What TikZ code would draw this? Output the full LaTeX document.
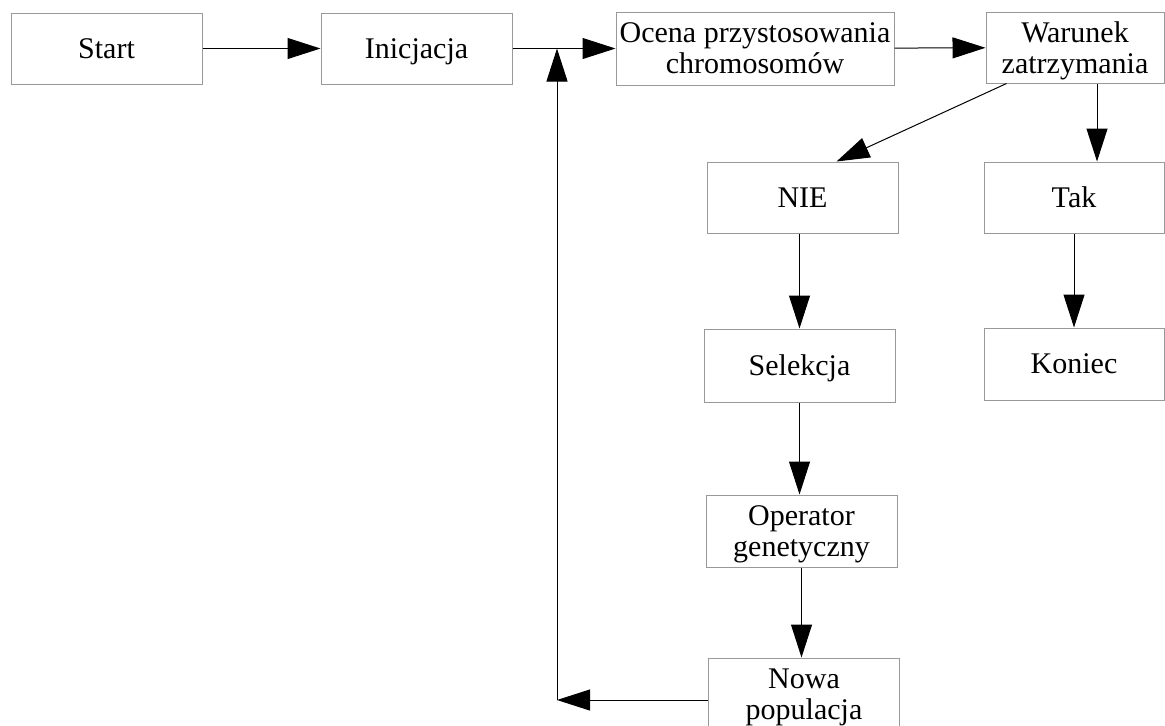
\documentclass[tikz,border=0pt]{standalone}
\usepackage{fontspec}
\setmainfont{Liberation Serif}
\usetikzlibrary{
    arrows.meta,
    positioning,
    calc
}

\begin{document}
\begin{tikzpicture}[
        x=0.5pt, y=-0.5pt,
        box/.style={rectangle, draw=gray!80, line width=0.5pt, inner sep=0pt, minimum width=95.5pt, minimum height=35.5pt, align=center, text depth=0pt, font=\fontsize{15}{15.5}\selectfont},
        arrow/.style={-{Triangle[length=16.5pt, width=10.5pt]}, line width=0.5pt}
    ]
        \useasboundingbox (0,0) rectangle (1165,725);

        \node[box] (start) at (106.5,48.5) {Start};
        \node[box] (init) at (416.5,48.5) {Inicjacja};
        \node[box, minimum width=139pt, minimum height=36.5pt] (ocena) at (755,48.5) {Ocena przystosowania\\chromosomów};
        \node[box, minimum width=89pt] (warunek) at (1075,47.5) {Warunek\\zatrzymania};
        \node[box] (nie) at (802.5,197.5) {NIE};
        \node[box, minimum width=90pt] (tak) at (1074,197.5) {Tak};
        \node[box, minimum height=36.5pt] (selekcja) at (799.5,365.5) {Selekcja};
        \node[box, minimum width=90pt, minimum height=36pt] (koniec) at (1074,364) {Koniec};
        \node[box, minimum height=36pt] (operator) at (801.5,531) {Operator\\genetyczny};
        \node[box, minimum height=36pt] (nowa) at (804,694) {Nowa\\populacja};
        \coordinate (turn) at (557,700);

        \draw[arrow] (start) -- (init);
        \draw[arrow] (init) -- (ocena);
        \draw[arrow] (ocena) -- (warunek);
        \draw[arrow] ([xshift=10.5pt]warunek.south west) -- ([xshift=17pt]nie.north);
        \draw[arrow] ([xshift=11pt]warunek.south) -- ([xshift=11pt]warunek.south |- tak.north);
        \draw[arrow] (nie.south -| selekcja.north) -- (selekcja.north);
        \draw[arrow] (tak.south -| koniec.north) -- (koniec.north);
        \draw[arrow] (selekcja.south) -- (selekcja.south |- operator.north);
        \draw[arrow] (operator.south) -- (operator.south |- nowa.north);
        \draw[arrow] (nowa.west |- turn) -- (turn);
        \draw[arrow] (turn) -- (turn |- init.east);
    \end{tikzpicture}
\end{document}
